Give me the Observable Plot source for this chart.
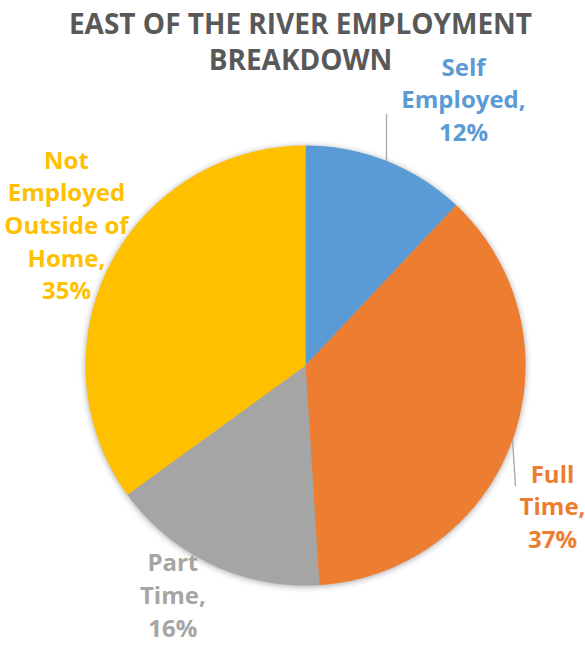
<!DOCTYPE html>
<html><head><meta charset="utf-8">
<script src="https://cdn.jsdelivr.net/npm/d3@7"></script>
<script src="https://cdn.jsdelivr.net/npm/@observablehq/plot@0.6"></script>
<style>body{margin:0;background:#fff}</style>
</head><body><div id="chart"></div>
<script>
const categories = ["Self Employed", "Full Time", "Part Time", "Not Employed Outside of Home"];
const shares = [12, 37, 16, 35];
const wrappedNames = ["Self\nEmployed,", "Full\nTime,", "Part\nTime,", "Not\nEmployed\nOutside of\nHome,"];
const colors = ["#5B9BD5", "#ED7D31", "#A5A5A5", "#FFC000"];
const titleText = "EAST OF THE RIVER EMPLOYMENT\nBREAKDOWN";
// label offsets (pixels) from the slice's mid-angle point on the rim
const labelDx = [77, 40, -39, -43];
const labelDy = [-63, 65, 29, -42];
// leader lines (pixels) from rim: [dx, dy] for end point, null = none
const leaderEnd = [[0, -47], [3, 46], null, null];

const R = 220; // pixel radius (frame half width)
const total = d3.sum(shares);
let acc = 0;
const slices = categories.map((cat, i) => {
  const a0 = acc / total * 2 * Math.PI;
  acc += shares[i];
  const a1 = acc / total * 2 * Math.PI;
  return {cat, i, a0, a1, mid: (a0 + a1) / 2, share: shares[i]};
});
const pts = [];
for (const s of slices) {
  pts.push({cat: s.cat, x: 0, y: 0});
  const n = Math.max(2, Math.ceil((s.a1 - s.a0) / (Math.PI / 360)));
  for (let k = 0; k <= n; k++) {
    const a = s.a0 + (s.a1 - s.a0) * k / n;
    pts.push({cat: s.cat, x: Math.sin(a), y: Math.cos(a)});
  }
  pts.push({cat: s.cat, x: 0, y: 0});
}
const labels = slices.map(s => ({
  cat: s.cat,
  x: Math.sin(s.mid), y: Math.cos(s.mid),
  dx: labelDx[s.i], dy: labelDy[s.i],
  text: wrappedNames[s.i] + "\n" + s.share + "%"
}));
const leaders = slices.filter(s => leaderEnd[s.i]).map(s => ({
  x1: Math.sin(s.mid), y1: Math.cos(s.mid),
  x2: Math.sin(s.mid) + leaderEnd[s.i][0] / R,
  y2: Math.cos(s.mid) - leaderEnd[s.i][1] / R
}));

const chart = Plot.plot({
  width: 585, height: 646,
  marginLeft: 85, marginRight: 60, marginTop: 145, marginBottom: 61,
  x: {domain: [-1, 1], axis: null},
  y: {domain: [-1, 1], axis: null},
  color: {domain: categories, range: colors},
  style: {fontFamily: "'Open Sans', sans-serif", background: "white", overflow: "visible"},
  marks: [
    Plot.line(pts, {x: "x", y: "y", z: "cat", fill: "cat", stroke: "none", curve: "linear"}),
    Plot.link(leaders, {x1: "x1", y1: "y1", x2: "x2", y2: "y2", stroke: "#A6A6A6", strokeWidth: 1.3}),
    Plot.text(labels, {x: "x", y: "y", text: "text", fill: "cat", fontWeight: 700, fontSize: 24, lineHeight: 1.36, lineAnchor: "middle", textAnchor: "middle"}),
    Plot.text([titleText], {frameAnchor: "top", text: d => d, dx: -5, dy: -105, lineAnchor: "middle", fill: "#595959", fontWeight: 700, fontSize: 28, lineHeight: 1.3})
  ]
});
// apply per-label pixel offsets
chart.querySelectorAll('g[aria-label="text"]')[0].querySelectorAll("text").forEach((t, j) => {
  const tr = t.getAttribute("transform") || "";
  t.setAttribute("transform", tr + ` translate(${labels[j].dx},${labels[j].dy})`);
});
const lineG = chart.querySelector('g[aria-label="line"]');
if (lineG) lineG.style.filter = "drop-shadow(0px 1px 3px rgba(0,0,0,0.35))";
document.getElementById("chart").appendChild(chart);
</script>
</body></html>
